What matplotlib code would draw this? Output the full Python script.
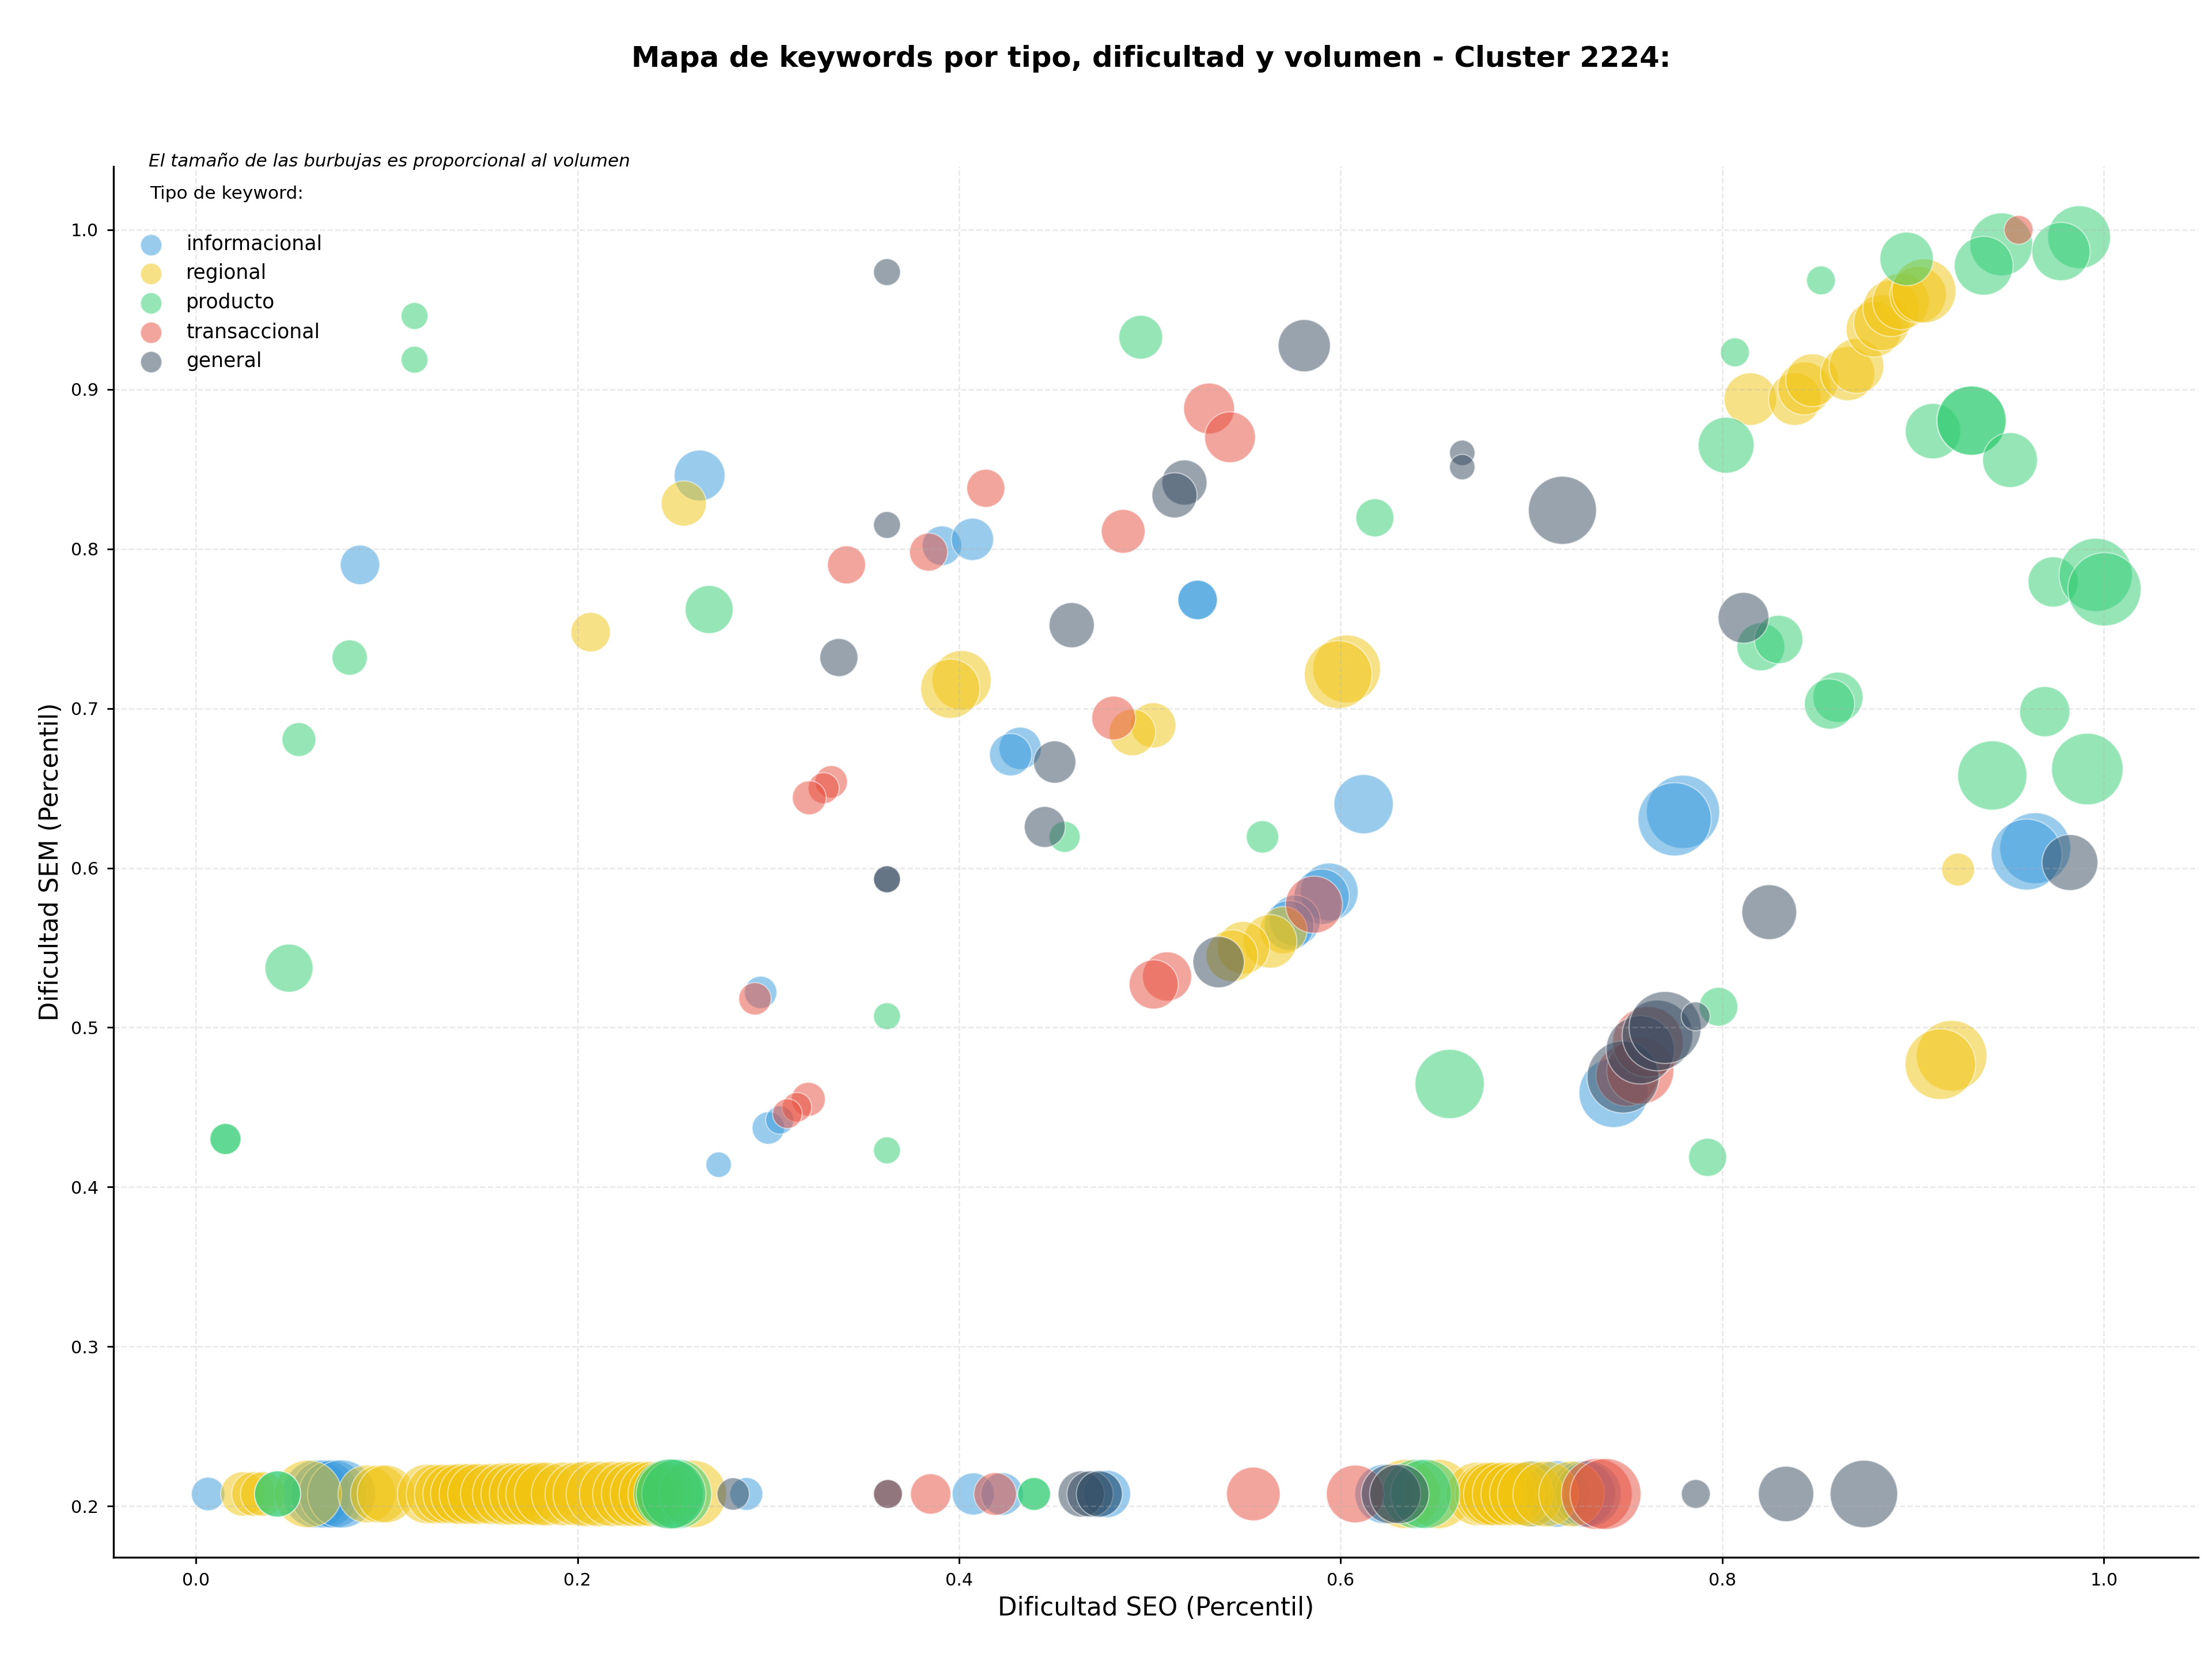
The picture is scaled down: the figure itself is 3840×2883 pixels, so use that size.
#! /usr/bin/env python3
# -*- coding: utf-8 -*-

import matplotlib
matplotlib.use('Agg')
import matplotlib.pyplot as plt

# keywords without SEM data all sit on the same floor value
floor_sem = 0.2076

# difficulty SEO, difficulty SEM and volume for each keyword type
info_floor_seo = [0.0064, 0.0632, 0.0674, 0.0718, 0.0763, 0.2885, 0.4074, 0.4225, 0.4730, 0.4775,
                  0.6230, 0.7001, 0.7130, 0.7266, 0.7296]
info_floor_vol = [194, 802, 802, 802, 802, 187, 307, 315, 387, 387,
                  611, 762, 762, 762, 762]
info_seo = [0.264, 0.086, 0.391, 0.407, 0.525, 0.525, 0.432, 0.427, 0.612, 0.7794, 0.7750, 0.9640, 0.9595,
            0.594, 0.590, 0.576, 0.573, 0.296, 0.300, 0.306, 0.274, 0.743]
info_sem = [0.846, 0.790, 0.802, 0.806, 0.768, 0.768, 0.675, 0.671, 0.640, 0.6352, 0.6305, 0.6124, 0.6084,
            0.585, 0.582, 0.567, 0.564, 0.522, 0.437, 0.442, 0.414, 0.459]
info_vol = [447, 270, 270, 310, 270, 270, 310, 310, 608, 929, 929, 871, 871,
            576, 530, 446, 430, 182, 182, 138, 112, 829]

reg_floor_seo = [0.0246, 0.0304, 0.0350, 0.0587, 0.0896, 0.0961, 0.0996, 0.1212, 0.1258,
                 0.1301, 0.1345, 0.1389, 0.1434, 0.1479, 0.1546, 0.1613, 0.1657, 0.1701, 0.1746,
                 0.1791, 0.1836, 0.1925, 0.1996, 0.2042, 0.2111, 0.2181, 0.2250, 0.2296, 0.2342,
                 0.2389, 0.2435, 0.2604, 0.6340, 0.6510, 0.6717, 0.6765, 0.6783, 0.6810, 0.6856,
                 0.6901, 0.6947, 0.6994, 0.7074, 0.7210]
reg_floor_vol = [342, 342, 342, 788, 576, 576, 576, 612, 612,
                 612, 612, 640, 640, 640, 640, 672, 672, 672, 672,
                 700, 700, 700, 700, 735, 735, 735, 735, 735, 735,
                 735, 735, 788, 829, 829, 697, 697, 697, 697, 697,
                 697, 697, 745, 745, 745]
reg_seo = [0.8147, 0.8380, 0.8430, 0.8471, 0.8657, 0.8703, 0.8794, 0.8835, 0.8885, 0.8936, 0.9026, 0.9057,
           0.2557, 0.2069, 0.4013, 0.3954, 0.5018, 0.4908, 0.6031, 0.5987, 0.9236, 0.9202, 0.9143,
           0.570, 0.563, 0.549, 0.543]
reg_sem = [0.8939, 0.8939, 0.9006, 0.9057, 0.9099, 0.9147, 0.9376, 0.9418, 0.9508, 0.9551, 0.9593, 0.9617,
           0.8285, 0.7478, 0.7177, 0.7124, 0.6894, 0.6850, 0.7248, 0.7212, 0.5990, 0.4823, 0.4770,
           0.561, 0.554, 0.550, 0.545]
reg_vol = [477, 477, 488, 484, 509, 520, 531, 541, 553, 553, 553, 710,
           353, 270, 608, 608, 353, 376, 795, 795, 187, 862, 862,
           387, 498, 477, 465]

prod_floor_seo = [0.0428, 0.0428, 0.2477, 0.2520, 0.2490, 0.4393, 0.4393, 0.6398, 0.6443]
prod_floor_vol = [369, 369, 843, 843, 843, 187, 187, 829, 829]
prod_seo = [0.8517, 0.8066, 0.8966, 0.9462, 0.9370, 0.9870, 0.9775, 0.8020, 0.9104, 0.9306, 0.9306, 0.9508,
            0.8202, 0.8295, 0.8606, 0.8562, 0.9734, 0.9957, 1.0003, 0.9690, 0.9913, 0.9415,
            0.1146, 0.1146, 0.0806, 0.0540, 0.0488, 0.0155, 0.0155, 0.2690, 0.4952, 0.6179, 0.3622, 0.3622,
            0.4553, 0.5590, 0.7923, 0.6571, 0.7980]
prod_sem = [0.9683, 0.9232, 0.9818, 0.9909, 0.9775, 0.9954, 0.9864, 0.8650, 0.8738, 0.8804, 0.8804, 0.8557,
            0.7386, 0.7432, 0.7070, 0.7028, 0.7793, 0.7837, 0.7747, 0.6980, 0.6620, 0.6580,
            0.9460, 0.9186, 0.7319, 0.6805, 0.5372, 0.4301, 0.4301, 0.7620, 0.9327, 0.8195, 0.5071, 0.4230,
            0.6195, 0.6195, 0.4186, 0.4646, 0.5130]
prod_vol = [144, 144, 495, 684, 599, 684, 588, 541, 531, 829, 829, 520,
            397, 406, 436, 436, 436, 929, 929, 436, 886, 829,
            125, 125, 216, 199, 399, 167, 167, 399, 332, 251, 125, 125,
            167, 182, 251, 830, 259]

trans_floor_seo = [0.3627, 0.3851, 0.4189, 0.5542, 0.6076, 0.7342, 0.7388]
trans_floor_vol = [144, 282, 315, 498, 576, 871, 871]
trans_seo = [0.9553, 0.531, 0.542, 0.414, 0.486, 0.341, 0.384, 0.481, 0.333, 0.329, 0.3215,
             0.293, 0.321, 0.315, 0.310, 0.586, 0.509, 0.502, 0.750, 0.757, 0.761]
trans_sem = [1.000, 0.888, 0.870, 0.838, 0.811, 0.790, 0.798, 0.694, 0.654, 0.650, 0.644,
             0.518, 0.455, 0.450, 0.446, 0.577, 0.532, 0.527, 0.470, 0.473, 0.491]
trans_vol = [144, 447, 447, 251, 332, 251, 251, 332, 182, 167, 199,
             182, 199, 152, 152, 564, 418, 418, 657, 780, 864]

gen_floor_seo = [0.2816, 0.3627, 0.4640, 0.4686, 0.4735, 0.6263, 0.6307, 0.7861, 0.8334, 0.8742]
gen_floor_vol = [181, 144, 369, 369, 369, 611, 611, 144, 531, 788]
gen_seo = [0.7162, 0.8111, 0.3622, 0.3622, 0.3370, 0.5181, 0.5129, 0.5809, 0.6637, 0.6637, 0.4590, 0.4501,
           0.4449, 0.3622, 0.3622, 0.8246, 0.9822, 0.536, 0.748, 0.757, 0.766, 0.770, 0.786]
gen_sem = [0.8242, 0.7568, 0.9735, 0.8150, 0.7319, 0.8416, 0.8336, 0.9274, 0.8602, 0.8513, 0.7522, 0.6664,
           0.6257, 0.5929, 0.5929, 0.5723, 0.6034, 0.541, 0.469, 0.486, 0.495, 0.500, 0.507]
gen_vol = [802, 446, 125, 125, 251, 353, 353, 472, 112, 112, 353, 310,
           290, 125, 125, 520, 541, 456, 900, 810, 864, 900, 144]

types = ['informacional', 'regional', 'producto', 'transaccional', 'general']
colors = ['#3498db', '#f1c40f', '#2ecc71', '#e74c3c', '#34495e']
floor_seo_values = [info_floor_seo, reg_floor_seo, prod_floor_seo, trans_floor_seo, gen_floor_seo]
floor_vol_values = [info_floor_vol, reg_floor_vol, prod_floor_vol, trans_floor_vol, gen_floor_vol]
seo_values = [info_seo, reg_seo, prod_seo, trans_seo, gen_seo]
sem_values = [info_sem, reg_sem, prod_sem, trans_sem, gen_sem]
vol_values = [info_vol, reg_vol, prod_vol, trans_vol, gen_vol]


def main():
    fig = plt.figure(figsize=(12.8, 9.61), dpi=300)
    ax = fig.add_axes([197 / 3840, 180 / 2883, 3619 / 3840, 2414 / 2883])

    for i, name in enumerate(types):
        seo = floor_seo_values[i] + seo_values[i]
        sem = [floor_sem] * len(floor_seo_values[i]) + sem_values[i]
        vol = floor_vol_values[i] + vol_values[i]
        ax.scatter(seo, sem, s=vol, color=colors[i], alpha=0.5, edgecolors='white', linewidths=0.5)
        # fixed size handle for the legend
        ax.scatter([], [], s=79, color=colors[i], alpha=0.5, edgecolors='white', linewidths=0.5, label=name)

    ax.set_xlim(-0.0432, 1.0494)
    ax.set_ylim(0.1679, 1.0397)
    ax.set_xticks([0.0, 0.2, 0.4, 0.6, 0.8, 1.0])
    ax.set_yticks([0.2, 0.3, 0.4, 0.5, 0.6, 0.7, 0.8, 0.9, 1.0])
    ax.tick_params(labelsize=7.3, length=2.7, width=0.7)
    ax.set_xlabel('Dificultad SEO (Percentil)', fontsize=10.5, labelpad=3)
    ax.set_ylabel('Dificultad SEM (Percentil)', fontsize=10.5, labelpad=3)
    ax.grid(True, linestyle='--', linewidth=0.6, alpha=0.3)
    ax.spines['top'].set_visible(False)
    ax.spines['right'].set_visible(False)
    for side in ('left', 'bottom'):
        ax.spines[side].set_linewidth(0.8)

    ax.text(0.0169, 1.0037, 'El tamaño de las burbujas es proporcional al volumen',
            transform=ax.transAxes, fontsize=7.45, style='italic', va='center')
    ax.text(0.0174, 0.9805, 'Tipo de keyword:', transform=ax.transAxes, fontsize=7.5, va='center')
    ax.legend(loc='upper left', bbox_to_anchor=(0.0047, 0.957), frameon=False, fontsize=8.3,
              labelspacing=0.487, handletextpad=0.76, borderaxespad=0)

    fig.text(0.5205, 0.9645, 'Mapa de keywords por tipo, dificultad y volumen - Cluster 2224:',
             fontsize=11.95, fontweight='bold', ha='center', va='center')
    fig.savefig('out.png')


if __name__ == '__main__':
    main()
